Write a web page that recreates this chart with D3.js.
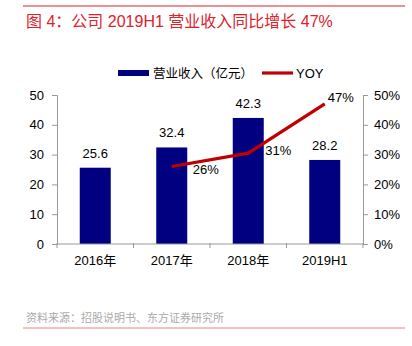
<!DOCTYPE html>
<html><head><meta charset="utf-8">
<script src="https://cdn.jsdelivr.net/npm/d3@7"></script>
<style>body{margin:0;background:#fff}svg{display:block;font-family:"Liberation Sans",Arial,sans-serif}</style>
</head><body><svg id="c" width="412" height="346"></svg>
<script>
const categories = ["2016年","2017年","2018年","2019H1"];
const revenue = [25.6, 32.4, 42.3, 28.2];
const revenueLabels = ["25.6","32.4","42.3","28.2"];
const yoyCategories = ["2017年","2018年","2019H1"];
const yoy = [0.26, 0.305, 0.47];
const yoyLabels = ["26%","31%","47%"];
const leftTicks = [0,10,20,30,40,50];
const rightTicks = [0,0.1,0.2,0.3,0.4,0.5];

const svg = d3.select("#c");
const cjk = '"Liberation Sans","Noto Sans CJK SC",sans-serif';
const L = 57, R = 363, T = 95, B = 244;
const xb = d3.scaleBand().domain(categories).range([L, R]);
const y = d3.scaleLinear().domain([0,50]).range([B, T]);
const y2 = d3.scaleLinear().domain([0,0.5]).range([B, T]);

// top line & title
svg.append("line").attr("x1",23).attr("x2",405).attr("y1",6).attr("y2",6).attr("stroke","#e0202a").attr("stroke-width",1);
svg.append("text").attr("x",26).attr("y",27).attr("fill","#e0202a").attr("font-size",16)
  .style("font-family",cjk).text("图 4：公司 2019H1 营业收入同比增长 47%");

// bars
svg.selectAll("rect.bar").data(revenue).join("rect").attr("class","bar")
  .attr("x",(d,i)=>xb(categories[i]) + xb.bandwidth()/2 - 15.5)
  .attr("width",31)
  .attr("y",d=>y(d)).attr("height",d=>B-y(d)).attr("fill","#000080");

// axes
const axColor = "#999";
const gl = svg.append("g").attr("transform",`translate(${L},0)`)
  .call(d3.axisLeft(y).tickValues(leftTicks).tickSize(5).tickPadding(8));
const gr = svg.append("g").attr("transform",`translate(${R},0)`)
  .call(d3.axisRight(y2).tickValues(rightTicks).tickSize(5).tickPadding(6).tickFormat(d3.format(".0%")));
const gx = svg.append("g").attr("transform",`translate(0,${B})`)
  .call(d3.axisBottom(xb).tickSize(0).tickPadding(12));
svg.selectAll("line.xt").data(d3.range(categories.length+1)).join("line").attr("class","xt")
  .attr("x1",i=>L+i*xb.step()).attr("x2",i=>L+i*xb.step()).attr("y1",B-1).attr("y2",B+4)
  .attr("stroke",axColor);
[gl,gr,gx].forEach(g=>{
  g.selectAll("path.domain").attr("stroke",axColor);
  g.selectAll(".tick line").attr("stroke",axColor);
  g.selectAll("text").attr("fill","#000").attr("font-size",13).style("font-family",'"Liberation Sans",Arial,sans-serif');
});
gx.selectAll("text").style("font-family",cjk).attr("font-size",13);
gx.selectAll("path.domain").attr("d",`M${L},0H${R}`);

// bar labels
svg.selectAll("text.bl").data(revenue).join("text").attr("class","bl")
  .attr("x",(d,i)=>xb(categories[i])+xb.bandwidth()/2).attr("y",d=>y(d)-10)
  .attr("text-anchor","middle").attr("font-size",13).attr("fill","#000").text((d,i)=>revenueLabels[i]);

// YOY line
const line = d3.line().x((d,i)=>xb(yoyCategories[i])+xb.bandwidth()/2).y(d=>y2(d));
svg.append("path").datum(yoy).attr("d",line).attr("fill","none").attr("stroke","#c00000").attr("stroke-width",3.2);
const yoyOff = [[34,7],[30,2],[16,-2]];
svg.selectAll("text.yl").data(yoy).join("text").attr("class","yl")
  .attr("x",(d,i)=>xb(yoyCategories[i])+xb.bandwidth()/2+yoyOff[i][0])
  .attr("y",(d,i)=>y2(d)+yoyOff[i][1]).attr("text-anchor","middle")
  .attr("font-size",13).attr("fill","#000").text((d,i)=>yoyLabels[i]);

// legend
svg.append("rect").attr("x",118).attr("y",70).attr("width",31).attr("height",6).attr("fill","#000080");
svg.append("text").attr("x",153).attr("y",78).attr("font-size",12.5).style("font-family",cjk).attr("fill","#000").text("营业收入（亿元）");
svg.append("line").attr("x1",262).attr("x2",293).attr("y1",73).attr("y2",73).attr("stroke","#c00000").attr("stroke-width",3.2);
svg.append("text").attr("x",296).attr("y",78).attr("font-size",13).attr("fill","#000").text("YOY");

// source & bottom line
svg.append("text").attr("x",26).attr("y",322).attr("font-size",11).attr("fill","#aaa").style("font-family",'"Noto Sans CJK SC",sans-serif').text("资料来源：招股说明书、东方证券研究所");
svg.append("line").attr("x1",23).attr("x2",405).attr("y1",328).attr("y2",328).attr("stroke","#f08080").attr("stroke-width",1);
</script></body></html>
